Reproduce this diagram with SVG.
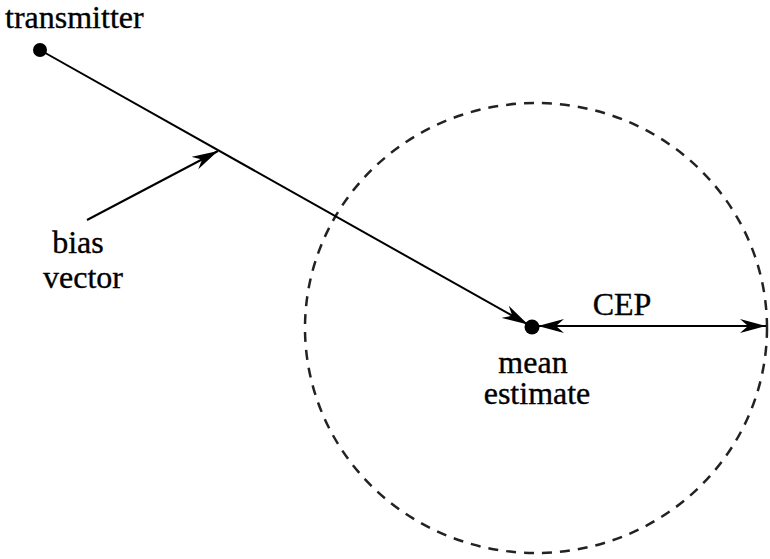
<svg xmlns="http://www.w3.org/2000/svg" width="770" height="559" viewBox="0 0 770 559">
  <style>
    .lbl { font-family: "Liberation Serif", "Times New Roman", serif; font-size: 32px; fill: #000; stroke: #000; stroke-width: 0.35; }
    .edge { stroke: #000; stroke-width: 2; fill: none; }
    .dot { fill: #000; }
    .cep { stroke: #222; stroke-width: 2.5; fill: none; stroke-dasharray: 10 8; }
  </style>
  <defs>
    <marker id="barb" markerUnits="userSpaceOnUse" viewBox="-26 -8 28 16" refX="0" refY="0" markerWidth="28" markerHeight="16" orient="auto-start-reverse">
      <path d="M0,0 L-26,-7 L-18,0 L-26,7 Z" fill="#000"/>
    </marker>
  </defs>

  <rect width="770" height="559" fill="#fff"/>

  <!-- uncertainty circle -->
  <g id="circle">
    <ellipse class="cep" cx="536" cy="328" rx="231" ry="225"/>
  </g>

  <!-- connectors -->
  <g id="connectors">
    <line class="edge" x1="40" y1="50" x2="528" y2="324.5" marker-end="url(#barb)"/>
    <line class="edge" x1="87" y1="220" x2="218" y2="151" marker-end="url(#barb)"/>
    <line class="edge" x1="538" y1="326" x2="766" y2="326" marker-start="url(#barb)" marker-end="url(#barb)"/>
  </g>

  <g id="transmitter">
    <circle class="dot" cx="40" cy="50" r="7"/>
    <text class="lbl" x="5" y="28">transmitter</text>
  </g>

  <g id="mean-estimate">
    <circle class="dot" cx="532" cy="327" r="7.5"/>
    <text class="lbl" x="533" y="373" text-anchor="middle">mean</text>
    <text class="lbl" x="537" y="404" text-anchor="middle">estimate</text>
  </g>

  <g id="bias-vector">
    <text class="lbl" x="78" y="253" text-anchor="middle">bias</text>
    <text class="lbl" x="83" y="288" text-anchor="middle">vector</text>
  </g>

  <g id="cep-label">
    <text class="lbl" x="622" y="315" text-anchor="middle">CEP</text>
  </g>
</svg>
